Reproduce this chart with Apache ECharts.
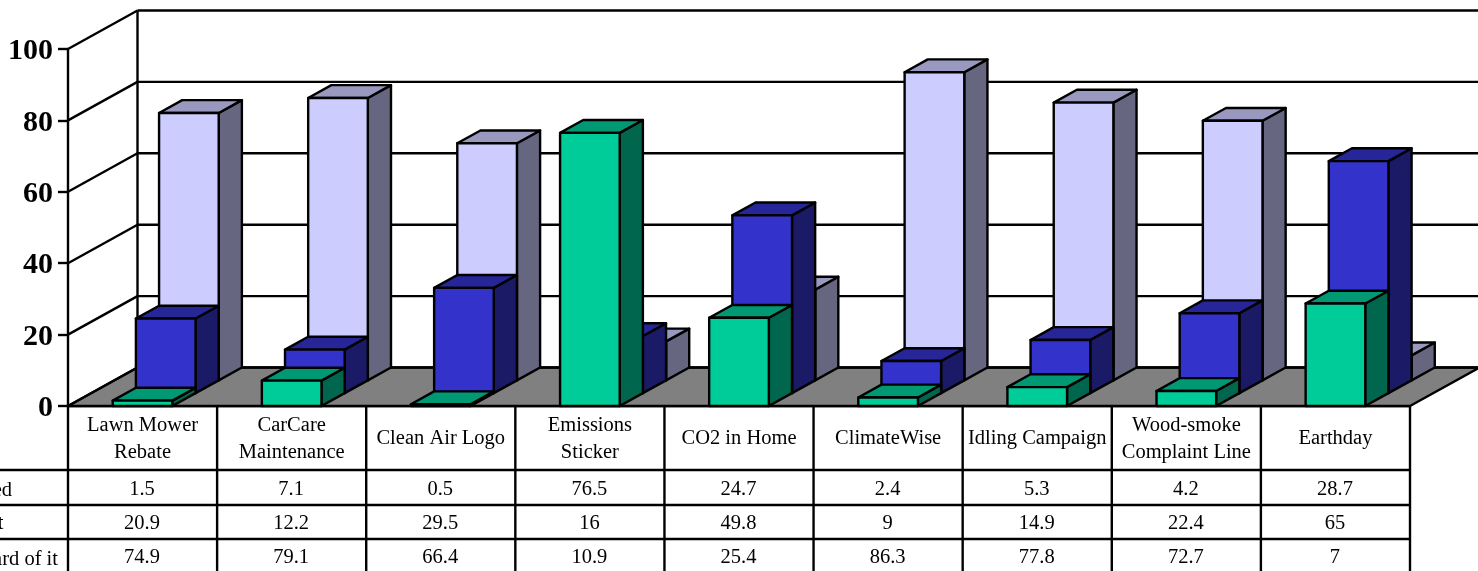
<!DOCTYPE html>
<html>
<head>
<meta charset="utf-8">
<style>
  html, body { margin: 0; padding: 0; background: #fff; overflow: hidden; }
  #chart { width: 1478px; height: 571px; }
</style>
<script src="https://cdn.jsdelivr.net/npm/echarts@6/dist/echarts.min.js"></script>
</head>
<body>
<div id="chart"></div>
<script>
// Programme awareness survey: three depth-stacked series per programme, with a data table below.
const categories = ['Lawn Mower\nRebate', 'CarCare\nMaintenance', 'Clean Air Logo', 'Emissions\nSticker',
  'CO2 in Home', 'ClimateWise', 'Idling Campaign', 'Wood-smoke\nComplaint Line', 'Earthday'];
const frontValues = [1.5, 7.1, 0.5, 76.5, 24.7, 2.4, 5.3, 4.2, 28.7];
const middleValues = [20.9, 12.2, 29.5, 16, 49.8, 9, 14.9, 22.4, 65];
const backValues = [74.9, 79.1, 66.4, 10.9, 25.4, 86.3, 77.8, 72.7, 7];
const rowLabels = ['ed', 't', 'ard of it'];
const yTicks = [0, 20, 40, 60, 80, 100];

// Oblique projection of the chart's depth axis, and the table's row layout.
const DEPTH_X = 69.5, DEPTH_Y = -38.5, SLOTS = 3, BAR_RATIO = 0.4;
const STROKE = { stroke: '#000', lineWidth: 2.4, lineJoin: 'round' };
const TABLE_FONT = '20.5px "Liberation Serif"';
const RIGHT_EDGE = 1480, TABLE_BOTTOM = 575;
const ROW_LINES = [470, 505, 539];
const ROW_CENTERS = [489.5, 523.5, 557.5];
const ROW_LABEL_RIGHT = [12, 3.5, 58];
const ROW_LABEL_Y = [491, 524, 560];

function poly(points, fill) {
  return { type: 'polygon', shape: { points }, style: Object.assign({ fill }, STROKE) };
}
function line(x1, y1, x2, y2) {
  return { type: 'line', shape: { x1, y1, x2, y2 }, style: STROKE };
}

// Side wall, back wall gridlines and the grey floor.
function renderWalls(params, api) {
  const v = api.value(1);
  const p = api.coord([0, v]);
  const left = p[0] - api.size([1, 0])[0] / 2;
  const backX = left + DEPTH_X, backY = p[1] + DEPTH_Y;
  const children = [line(left, p[1], backX, backY), line(backX, backY, RIGHT_EDGE, backY)];
  if (v === 0) {
    const width = api.size([1, 0])[0] * categories.length;
    children.unshift(poly([[left, p[1]], [left + width, p[1]], [left + width + DEPTH_X, backY], [backX, backY]], '#808080'));
  }
  if (v === yTicks[yTicks.length - 1]) {
    const floorY = api.coord([0, 0])[1] + DEPTH_Y;
    children.push(line(backX, backY, backX, floorY));
  }
  return { type: 'group', children };
}

// One cuboid per programme; slot 0 is the front row of the depth axis.
function cuboid(slot, face, top, side) {
  return function (params, api) {
    const base = api.coord([api.value(0), 0]);
    const head = api.coord([api.value(0), api.value(1)]);
    const w = api.size([1, 0])[0] * BAR_RATIO;
    const sx = DEPTH_X / SLOTS, sy = DEPTH_Y / SLOTS;
    const x0 = base[0] - w / 2 + sx * slot, x1 = x0 + w;
    const y0 = base[1] + sy * slot, y1 = head[1] + sy * slot;
    return {
      type: 'group',
      children: [
        poly([[x1, y0], [x1 + sx, y0 + sy], [x1 + sx, y1 + sy], [x1, y1]], side),
        poly([[x0, y1], [x1, y1], [x1 + sx, y1 + sy], [x0 + sx, y1 + sy]], top),
        poly([[x0, y0], [x1, y0], [x1, y1], [x0, y1]], face)
      ]
    };
  };
}

function cell(text, x, y, align) {
  return {
    type: 'text',
    style: { text, x, y, align, verticalAlign: 'middle', font: TABLE_FONT, fill: '#000' }
  };
}

// Data table under the plot: one column of values per programme, plus rules.
function renderTable(params, api) {
  const i = api.value(0);
  const c = api.coord([i, 0]);
  const w = api.size([1, 0])[0];
  const cols = [frontValues, middleValues, backValues];
  const children = cols.map((col, r) => cell(String(col[i]), c[0] - 0.5, ROW_CENTERS[r], 'center'));
  children.push(line(c[0] + w / 2, c[1], c[0] + w / 2, TABLE_BOTTOM));
  if (i === 0) {
    const left = c[0] - w / 2;
    children.push(line(left, c[1], left, TABLE_BOTTOM));
    ROW_LINES.forEach(y => children.push(line(-2, y, left + w * categories.length, y)));
    rowLabels.forEach((t, r) => children.push(cell(t, ROW_LABEL_RIGHT[r], ROW_LABEL_Y[r], 'right')));
  }
  return { type: 'group', children };
}

const indexed = values => values.map((v, i) => [i, v]);

const chart = echarts.init(document.getElementById('chart'), null, { renderer: 'canvas' });
chart.setOption({
  animation: false,
  backgroundColor: '#fff',
  grid: { left: 68, right: 68, top: 49, bottom: 165, containLabel: false },
  xAxis: {
    type: 'category',
    data: categories,
    axisLine: { lineStyle: { color: '#000', width: 2.4 } },
    axisTick: { show: false },
    axisLabel: {
      interval: 0, margin: 33, color: '#000', fontFamily: 'Liberation Serif', fontSize: 20.5,
      lineHeight: 27, verticalAlign: 'middle', hideOverlap: false
    }
  },
  yAxis: {
    type: 'value', min: 0, max: 100, interval: 20,
    axisLine: { show: true, lineStyle: { color: '#000', width: 2.4 } },
    axisTick: { show: true, length: 10, lineStyle: { color: '#000', width: 2.4 } },
    axisLabel: {
      margin: 15,
      formatter: '{tick|{value}}',
      rich: {
        tick: {
          color: '#000', fontFamily: 'Liberation Serif', fontWeight: 'bold', fontSize: 30,
          padding: [5, 0, 0, 0]
        }
      }
    },
    splitLine: { show: false }
  },
  series: [
    { type: 'custom', name: 'walls', renderItem: renderWalls, data: yTicks.map(v => [0, v]), z: 1 },
    { type: 'custom', name: 'back', renderItem: cuboid(2, '#CCCCFF', '#9999BF', '#666680'), data: indexed(backValues), z: 2 },
    { type: 'custom', name: 'middle', renderItem: cuboid(1, '#3333CC', '#262699', '#1A1A66'), data: indexed(middleValues), z: 3 },
    { type: 'custom', name: 'front', renderItem: cuboid(0, '#00CC99', '#009973', '#00664D'), data: indexed(frontValues), z: 4 },
    { type: 'custom', name: 'table', renderItem: renderTable, data: categories.map((c, i) => [i, 0]), z: 5 }
  ]
});
</script>
</body>
</html>
